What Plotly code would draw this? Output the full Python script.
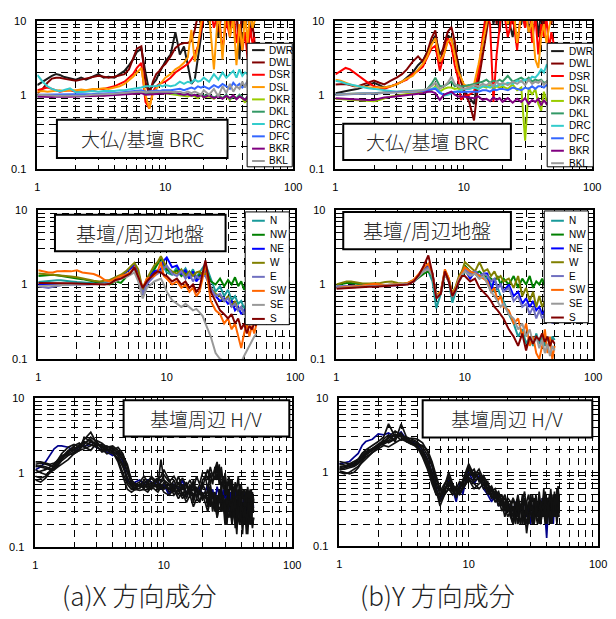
import plotly.graph_objects as go

# ---------------- data ----------------
F = [1.0, 1.1, 1.2, 1.3, 1.4, 1.5, 1.6, 1.8,
     2.0, 2.2, 2.4, 2.7, 3.0, 3.3, 3.6,
     4.0, 4.4, 4.8, 5.2, 5.6, 6.0, 6.5,
     7.0, 7.5, 8.0, 8.5, 9.0, 9.5, 10,
     11, 12, 13, 14, 15, 16, 17, 18, 19, 20,
     22, 24, 26, 28, 30, 32, 34, 36, 38, 40, 42, 44, 46, 48, 50]

# finer frequency list for the H/V panels
F_HV = [1.0, 1.1, 1.2, 1.3, 1.4, 1.5, 1.6, 1.8,
        2.0, 2.2, 2.4, 2.7, 3.0, 3.3, 3.6,
        4.0, 4.4, 4.8, 5.2, 5.6, 6.0, 6.5,
        7.0, 7.5, 8.0, 8.5, 9.0, 9.5, 10,
        11, 12, 13, 14, 15, 16, 17, 18, 19, 20,
        21, 22, 23, 24, 25, 26, 27, 28, 29, 30,
        31, 32, 33, 34, 35, 36, 37, 38, 39, 40,
        41, 42, 43, 44, 45, 46, 47, 48, 49, 50]

X_TICKS = [1, 10, 100]
X_TICK_TEXT = ["1", "10", "100"]
Y_TICKS = [0.1, 1, 10]
Y_TICK_TEXT = ["0.1", "1", "10"]

# --- top-left: 大仏/基壇 BRC, X ---
TL_NAMES = ["DWR", "DWL", "DSR", "DSL", "DKR", "DKL", "DRC", "DFC", "BKR", "BKL"]
TL_COLORS = ["#1a1a1a", "#800000", "#ff0000", "#ff9900", "#99cc00", "#339966", "#33cccc", "#3366ff", "#800080", "#999999"]
TL_DWR = [1.35, 1.5, 1.65, 1.8, 1.9, 1.85, 1.75, 1.65,
          1.6, 1.7, 1.6, 1.75, 1.9, 1.7, 1.75,
          1.7, 1.9, 2.1, 2.5, 3.0, 3.8, 4.2,
          2.0, 1.1, 1.4, 1.6, 2.0, 2.4, 2.8,
          3.5, 7.0, 3.5, 4.5, 2.5, 1.4, 1.6, 3.0, 6.0, 14,
          9, 16, 6, 20, 12, 7, 18, 15, 3, 14, 8, 14, 6, 12, 10]
TL_DWL = [1.05, 1.2, 1.45, 1.65, 1.7, 1.7, 1.65, 1.6,
          1.55, 1.6, 1.65, 1.75, 1.8, 1.75, 1.7,
          1.75, 1.85, 1.9, 2.2, 3.0, 4.2, 4.5,
          1.5, 1.0, 1.5, 1.9, 2.1, 2.4, 2.6,
          3.3, 4.3, 4.8, 5.0, 5.0, 5.3, 7.5, 12, 9, 16,
          11, 20, 7, 15, 25, 9, 18, 12, 5, 14, 8, 22, 6, 9, 5]
TL_DSR = [1.15, 1.2, 1.25, 1.2, 1.15, 1.1, 1.12, 1.15,
          1.1, 1.1, 1.12, 1.15, 1.2, 1.2, 1.25,
          1.3, 1.4, 1.5, 1.7, 1.9, 2.3, 2.7,
          0.8, 0.65, 1.1, 1.3, 1.4, 1.45, 1.5,
          1.7, 2.0, 2.2, 2.4, 2.6, 3.0, 3.5, 4.5, 7, 12,
          18, 8, 14, 4, 10, 6, 15, 5, 9, 4, 7, 3, 8, 5, 6]
TL_DSL = [1.1, 1.12, 1.1, 1.12, 1.15, 1.15, 1.12, 1.15,
          1.15, 1.18, 1.15, 1.2, 1.2, 1.22, 1.2,
          1.25, 1.3, 1.4, 1.55, 1.75, 2.0, 2.3,
          1.0, 0.65, 1.05, 1.2, 1.35, 1.5, 1.7,
          1.9, 2.2, 2.4, 2.7, 3.2, 7.5, 2.8, 4.5, 9, 14,
          12, 2.2, 15, 3, 18, 6, 11, 2.5, 9, 4, 12, 5, 14, 8, 10]
TL_DKR = [0.98, 0.97, 0.96, 0.97, 0.98, 0.97, 0.98, 0.97,
          0.97, 0.98, 0.97, 0.98, 0.99, 0.98, 1.0,
          1.0, 1.0, 1.02, 1.03, 1.05, 1.05, 1.1,
          1.0, 1.05, 1.05, 1.05, 1.08, 1.05, 1.05,
          1.02, 1.0, 0.98, 0.97, 0.95, 0.98, 0.95, 0.9, 1.0, 0.92,
          0.95, 0.88, 1.0, 0.9, 0.95, 0.85, 0.97, 0.88, 0.95, 0.9, 0.78, 0.95, 0.85, 0.92, 0.9]
TL_DKL = [0.95, 0.95, 0.96, 0.97, 0.97, 0.98, 0.98, 0.99,
          1.0, 1.0, 1.0, 1.0, 1.02, 1.02, 1.03,
          1.03, 1.05, 1.05, 1.07, 1.08, 1.1, 1.1,
          1.05, 1.05, 1.08, 1.08, 1.1, 1.08, 1.1,
          1.05, 1.05, 1.02, 1.0, 1.02, 0.98, 1.0, 0.95, 1.0, 0.97,
          1.0, 0.92, 0.98, 0.9, 1.0, 0.88, 0.95, 0.9, 1.0, 0.92, 0.85, 0.95, 0.9, 0.95, 0.92]
TL_DRC = [1.85, 1.5, 1.3, 1.2, 1.15, 1.12, 1.15, 1.22,
          1.08, 1.08, 1.1, 1.12, 1.1, 1.12, 1.12,
          1.12, 1.15, 1.15, 1.18, 1.2, 1.22, 1.25,
          1.3, 1.3, 1.28, 1.3, 1.35, 1.3, 1.35,
          1.3, 1.35, 1.5, 1.4, 1.5, 1.45, 1.6, 1.5, 1.55, 1.7,
          1.5, 1.9, 1.6, 2.0, 1.7, 1.9, 2.1, 1.7, 2.2, 1.8, 2.0, 1.9, 2.1, 2.0, 2.2]
TL_DFC = [1.0, 1.0, 1.0, 1.0, 1.0, 1.0, 1.0, 1.0,
          1.0, 1.0, 1.02, 1.02, 1.03, 1.05, 1.05,
          1.05, 1.07, 1.08, 1.1, 1.1, 1.12, 1.15,
          1.1, 1.1, 1.12, 1.15, 1.12, 1.15, 1.15,
          1.15, 1.18, 1.2, 1.15, 1.2, 1.25, 1.2, 1.3, 1.25, 1.3,
          1.2, 1.35, 1.25, 1.4, 1.3, 1.2, 1.45, 1.3, 1.4, 1.25, 1.35, 1.5, 1.3, 1.45, 1.4]
TL_BKR = [0.95, 0.94, 0.93, 0.93, 0.94, 0.95, 0.94, 0.94,
          0.95, 0.95, 0.96, 0.96, 0.97, 0.97, 0.98,
          0.98, 1.0, 1.0, 1.0, 1.02, 1.02, 1.05,
          1.0, 1.0, 1.02, 1.02, 1.05, 1.03, 1.05,
          1.05, 1.08, 1.02, 1.0, 1.02, 0.97, 1.0, 0.95, 1.0, 0.92,
          0.98, 0.9, 0.95, 0.88, 0.96, 0.9, 0.98, 0.87, 0.95, 0.9, 0.85, 0.95, 0.88, 0.92, 0.9]
TL_BKL = [1.0, 1.0, 0.98, 0.98, 0.97, 0.97, 0.97, 0.97,
          0.97, 0.98, 0.98, 1.0, 1.0, 1.02, 1.02,
          1.03, 1.05, 1.05, 1.07, 1.08, 1.1, 1.1,
          1.08, 1.1, 1.1, 1.12, 1.1, 1.12, 1.1,
          1.1, 1.08, 1.1, 1.05, 1.1, 1.05, 1.1, 1.05, 1.0, 1.15,
          1.0, 1.2, 0.95, 1.3, 1.05, 1.4, 1.1, 1.3, 1.2, 1.5, 1.25, 1.6, 1.35, 1.55, 1.6]

# --- top-right: 大仏/基壇 BRC, Y ---
TR_DWR = [1.05, 1.08, 1.1, 1.15, 1.18, 1.2, 1.25, 1.35,
          1.45, 1.35, 1.25, 1.3, 1.38, 1.5, 1.7,
          2.0, 2.5, 2.9, 3.8, 5.0, 6.3, 3.5,
          4.3, 6.3, 5.8, 4.0, 2.8, 1.7, 1.15,
          0.92, 0.75, 2.0, 5.8, 12, 18, 9, 15, 7, 20,
          12, 6, 16, 9, 20, 7, 13, 18, 6, 14, 9, 20, 11, 15, 18]
TR_DWL = [1.38, 1.4, 1.4, 1.35, 1.3, 1.3, 1.35, 1.45,
          1.55, 1.45, 1.38, 1.55, 1.7, 1.9, 2.2,
          2.8, 3.3, 2.8, 3.8, 5.8, 7.4, 2.6,
          4.7, 7.1, 8.2, 5.2, 2.3, 1.5, 1.1,
          0.8, 0.45, 1.5, 3.5, 8.7, 14, 20, 9, 16, 12,
          18, 9, 14, 20, 8, 15, 11, 17, 10, 13, 7, 16, 12, 9, 14]
TR_DSR = [1.88, 2.1, 2.3, 2.2, 2.0, 1.85, 1.7, 1.45,
          1.3, 1.25, 1.2, 1.3, 1.4, 1.5, 1.6,
          1.9, 2.1, 2.4, 3.3, 4.2, 4.6, 2.1,
          3.5, 5.8, 4.5, 2.5, 1.7, 0.85, 0.95,
          1.0, 1.1, 2.0, 6, 14, 9, 0.8, 3.5, 10, 18,
          6, 12, 4, 15, 8, 20, 5, 12, 3.5, 9, 6, 11, 4, 7, 5]
TR_DSL = [1.6, 1.55, 1.46, 1.38, 1.32, 1.3, 1.28, 1.26,
          1.25, 1.25, 1.25, 1.3, 1.38, 1.5, 1.65,
          1.8, 2.2, 2.6, 3.3, 4.7, 5.8, 2.8,
          3.5, 5.2, 5.8, 3.5, 2.1, 1.7, 1.38,
          1.25, 1.38, 2.55, 4.7, 8.7, 16, 11, 20, 13, 25,
          9, 18, 5, 12, 15, 7, 10, 3, 2.3, 6, 9, 5, 8, 12, 15]
TR_DKR = [0.88, 0.87, 0.86, 0.85, 0.84, 0.83, 0.83, 0.82,
          0.82, 0.85, 0.9, 0.95, 0.97, 1.0, 1.02,
          1.03, 1.05, 1.07, 1.1, 1.15, 1.3, 1.1,
          1.2, 1.25, 1.25, 1.2, 1.22, 1.18, 1.19,
          1.2, 1.25, 1.2, 1.3, 1.25, 1.35, 1.2, 1.3, 1.25, 1.3,
          1.2, 1.38, 1.15, 1.25, 0.24, 1.25, 1.0, 1.2, 0.75, 0.61, 1.1, 0.83, 0.9, 0.68, 0.85]
TR_DKL = [1.0, 1.0, 1.02, 1.03, 1.03, 1.04, 1.05, 1.05,
          1.05, 1.06, 1.07, 1.08, 1.1, 1.1, 1.12,
          1.12, 1.13, 1.15, 1.2, 1.4, 1.7, 1.3,
          1.3, 1.4, 1.5, 1.3, 1.35, 1.3, 1.3,
          1.35, 1.4, 1.45, 1.5, 1.6, 1.45, 1.55, 1.5, 1.6, 1.5,
          1.8, 1.5, 1.6, 1.7, 1.55, 1.7, 1.5, 1.6, 1.55, 1.6, 1.45, 1.5, 1.6, 1.4, 1.5]
TR_DRC = [1.55, 1.5, 1.42, 1.38, 1.33, 1.3, 1.27, 1.22,
          1.2, 1.17, 1.15, 1.12, 1.1, 1.1, 1.1,
          1.1, 1.12, 1.14, 1.16, 1.2, 1.25, 1.1,
          0.97, 1.0, 1.05, 1.1, 1.12, 1.15, 1.2,
          1.2, 1.25, 1.2, 1.3, 1.3, 1.25, 1.35, 1.3, 1.4, 1.35,
          1.45, 1.4, 1.55, 1.5, 1.6, 1.55, 1.75, 1.7, 1.9, 2.2, 2.0, 2.5, 2.3, 2.8, 3.0]
TR_DFC = [1.0, 1.0, 1.01, 1.02, 1.02, 1.03, 1.03, 1.04,
          1.05, 1.05, 1.06, 1.08, 1.1, 1.1, 1.1,
          1.1, 1.12, 1.12, 1.15, 1.18, 1.2, 1.05,
          1.0, 1.05, 1.08, 1.1, 1.1, 1.08, 1.1,
          1.1, 1.12, 1.1, 1.15, 1.15, 1.1, 1.18, 1.15, 1.2, 1.2,
          1.15, 1.25, 1.2, 1.15, 1.25, 1.2, 1.3, 1.2, 1.3, 1.3, 1.25, 1.35, 1.3, 1.3, 1.35]
TR_BKR = [0.9, 0.89, 0.88, 0.88, 0.87, 0.87, 0.86, 0.85,
          0.85, 0.88, 0.92, 0.93, 0.95, 0.96, 0.97,
          1.0, 1.02, 1.05, 1.1, 1.1, 1.05, 0.85,
          1.0, 1.05, 1.1, 1.0, 0.95, 0.95, 0.95,
          0.92, 0.9, 0.95, 0.85, 0.88, 0.82, 0.92, 0.85, 0.9, 0.8,
          0.9, 0.78, 0.88, 0.8, 0.9, 0.75, 0.85, 0.8, 0.88, 0.72, 0.85, 0.75, 0.82, 0.7, 0.78]
TR_BKL = [1.0, 1.0, 1.02, 1.02, 1.03, 1.03, 1.04, 1.05,
          1.05, 1.05, 1.06, 1.06, 1.07, 1.08, 1.1,
          1.1, 1.12, 1.15, 1.2, 1.3, 1.45, 1.2,
          1.3, 1.45, 1.75, 1.4, 1.3, 1.25, 1.2,
          1.25, 1.35, 1.3, 1.4, 1.35, 1.45, 1.3, 1.5, 1.35, 1.45,
          1.35, 1.5, 1.4, 1.55, 1.35, 1.6, 1.4, 1.5, 1.45, 1.55, 1.35, 1.5, 1.4, 1.3, 1.45]

# --- middle-left: 基壇/周辺地盤, X ---
ML_NAMES = ["N", "NW", "NE", "W", "E", "SW", "SE", "S"]
ML_COLORS = ["#1a9a9a", "#008000", "#0000ff", "#808000", "#7070c0", "#ff6600", "#999999", "#800000"]
ML_N = [1.08, 1.1, 1.12, 1.13, 1.14, 1.14, 1.12, 1.1,
        1.08, 1.06, 1.05, 1.04, 1.03, 1.05, 1.1,
        1.25, 1.3, 1.45, 1.6, 1.8, 1.35, 0.8,
        1.1, 1.35, 1.7, 1.9, 2.0, 1.7, 1.45,
        1.35, 1.7, 1.4, 1.65, 1.3, 1.6, 1.25, 1.45, 1.7, 1.9,
        1.2, 0.8, 0.95, 0.7, 0.85, 0.62, 0.7, 0.55, 0.6, 0.48, 0.55, 0.45, 0.52, 0.4, 0.45]
ML_NW = [1.3, 1.32, 1.35, 1.35, 1.33, 1.3, 1.28, 1.25,
         1.2, 1.18, 1.15, 1.1, 1.05, 1.02, 1.0,
         1.1, 1.05, 1.25, 1.45, 1.6, 1.45, 0.85,
         1.1, 1.3, 1.55, 1.9, 2.3, 1.9, 1.6,
         1.4, 1.55, 1.3, 1.45, 1.2, 1.5, 1.2, 1.35, 1.45, 1.6,
         1.1, 1.0, 1.2, 0.95, 1.15, 1.0, 1.25, 0.95, 1.1, 0.85, 1.0, 0.8, 0.95, 0.85, 0.9]
ML_NE = [1.0, 1.0, 1.0, 1.0, 1.0, 1.0, 1.0, 1.01,
         1.02, 1.02, 1.0, 1.0, 1.0, 1.02, 1.05,
         1.2, 1.3, 1.45, 1.6, 1.8, 1.4, 0.72,
         1.0, 1.3, 1.5, 1.55, 1.6, 2.1, 2.3,
         1.7, 1.8, 1.4, 1.55, 1.2, 1.5, 1.1, 1.25, 1.4, 1.5,
         0.9, 0.7, 0.6, 0.65, 0.55, 0.6, 0.45, 0.5, 0.4, 0.45, 0.38, 0.42, 0.35, 0.4, 0.38]
ML_W = [1.4, 1.38, 1.37, 1.36, 1.35, 1.34, 1.32, 1.28,
        1.25, 1.2, 1.17, 1.12, 1.1, 1.12, 1.15,
        1.25, 1.35, 1.5, 1.7, 1.95, 1.6, 0.85,
        1.2, 1.5, 1.8, 2.0, 2.4, 2.0, 1.7,
        1.5, 1.4, 1.6, 1.3, 1.5, 1.3, 1.45, 1.5, 1.3, 1.4,
        0.9, 0.75, 0.7, 0.6, 0.7, 0.5, 0.6, 0.45, 0.5, 0.4, 0.45, 0.38, 0.42, 0.35, 0.4]
ML_E = [0.95, 0.92, 0.9, 0.93, 0.96, 0.98, 0.99, 1.0,
        1.0, 1.0, 1.0, 1.0, 1.0, 1.02, 1.05,
        1.15, 1.25, 1.35, 1.45, 1.6, 1.3, 0.75,
        1.0, 1.15, 1.3, 1.4, 1.5, 1.65, 1.8,
        1.4, 1.3, 1.5, 1.2, 1.4, 1.1, 1.3, 1.2, 1.3, 1.3,
        0.9, 0.7, 0.75, 0.6, 0.65, 0.5, 0.55, 0.45, 0.5, 0.4, 0.45, 0.35, 0.4, 0.33, 0.38]
ML_SW = [1.55, 1.5, 1.45, 1.45, 1.5, 1.5, 1.52, 1.5,
         1.55, 1.45, 1.42, 1.38, 1.28, 1.15, 1.1,
         1.2, 1.3, 1.35, 1.45, 1.7, 1.3, 0.9,
         1.2, 1.25, 1.3, 1.5, 2.0, 1.3, 1.2,
         1.0, 1.1, 0.9, 1.0, 0.8, 0.9, 0.7, 0.8, 1.2, 1.9,
         0.6, 0.45, 0.4, 0.3, 0.35, 0.25, 0.3, 0.2, 0.14, 0.22, 0.3, 0.2, 0.28, 0.22, 0.3]
ML_SE = [0.95, 0.96, 0.97, 0.97, 0.98, 0.98, 0.99, 1.0,
         1.0, 1.0, 1.0, 1.0, 1.0, 1.02, 1.05,
         1.1, 1.2, 1.25, 1.35, 1.45, 1.1, 0.65,
         0.9, 1.0, 1.1, 1.15, 1.2, 1.0, 0.8,
         0.62, 0.55, 0.5, 0.55, 0.5, 0.45, 0.47, 0.42, 0.38, 0.3,
         0.2, 0.12, 0.1, 0.095, 0.09, 0.092, 0.09, 0.095, 0.09, 0.11, 0.13, 0.15, 0.17, 0.2, 0.22]
ML_S = [1.05, 1.05, 1.06, 1.06, 1.05, 1.05, 1.05, 1.04,
        1.03, 1.02, 1.01, 1.0, 1.0, 1.0, 1.02,
        1.15, 1.2, 1.3, 1.4, 1.7, 1.3, 0.9,
        1.1, 1.25, 1.4, 1.5, 1.45, 1.35, 1.3,
        1.1, 1.2, 1.0, 1.1, 0.9, 1.0, 0.8, 0.9, 1.4, 2.1,
        0.8, 0.6, 0.45, 0.4, 0.35, 0.4, 0.3, 0.35, 0.25, 0.3, 0.22, 0.28, 0.25, 0.3, 0.28]

# --- middle-right: 基壇/周辺地盤, Y ---
MR_N = [0.92, 0.93, 0.94, 0.95, 0.95, 0.96, 0.96, 0.97,
        0.97, 0.98, 0.98, 0.98, 0.99, 1.0, 1.02,
        1.1, 1.3, 1.6, 1.5, 1.1, 0.48, 0.75,
        1.4, 1.1, 0.57, 0.8, 1.1, 1.3, 1.5,
        1.3, 1.4, 1.2, 1.3, 1.2, 1.0, 0.8, 0.9, 0.7, 0.6,
        0.4, 0.3, 0.2, 0.25, 0.16, 0.2, 0.15, 0.22, 0.16, 0.2, 0.15, 0.2, 0.15, 0.2, 0.18]
MR_NW = [0.98, 1.02, 1.05, 1.05, 1.03, 1.0, 0.98, 0.97,
         0.96, 0.97, 0.98, 1.0, 1.0, 1.0, 1.02,
         1.1, 1.25, 1.4, 1.5, 1.3, 0.7, 0.75,
         1.4, 1.1, 0.72, 0.9, 1.2, 1.45, 1.8,
         1.5, 1.4, 1.5, 1.3, 1.3, 1.2, 1.1, 1.3, 1.0, 1.2,
         1.0, 1.3, 0.9, 1.2, 1.0, 1.3, 0.9, 1.1, 1.0, 1.2, 0.95, 1.1, 1.0, 1.05, 1.0]
MR_NE = [0.92, 0.93, 0.95, 0.95, 0.95, 0.95, 0.96, 0.96,
         0.97, 0.97, 0.98, 0.98, 0.98, 1.0, 1.02,
         1.1, 1.3, 1.6, 1.8, 1.4, 0.7, 0.78,
         1.5, 1.15, 0.7, 0.85, 1.2, 1.4, 1.6,
         1.2, 1.5, 1.3, 1.4, 1.4, 0.8, 1.2, 0.9, 1.0, 0.8,
         1.0, 0.7, 0.8, 0.55, 0.65, 0.5, 0.6, 0.45, 0.5, 0.4, 0.45, 0.4, 0.42, 0.38, 0.4]
MR_W = [1.0, 1.05, 1.1, 1.1, 1.08, 1.05, 1.03, 1.03,
        1.03, 1.05, 1.08, 1.1, 1.05, 1.03, 1.05,
        1.15, 1.35, 1.6, 1.7, 1.3, 0.72, 0.8,
        1.55, 1.2, 0.75, 0.95, 1.3, 1.5, 2.0,
        1.7, 1.5, 2.0, 1.5, 1.6, 1.3, 1.5, 1.2, 1.3, 1.1,
        1.2, 0.9, 1.3, 0.7, 0.9, 0.6, 0.8, 0.5, 0.7, 0.5, 0.6, 0.45, 0.55, 0.5, 0.55]
MR_E = [0.95, 0.95, 0.96, 0.96, 0.97, 0.97, 0.97, 0.98,
        0.98, 0.98, 0.98, 1.0, 1.0, 1.0, 1.02,
        1.1, 1.3, 1.55, 1.7, 1.35, 0.68, 0.75,
        1.45, 1.1, 0.7, 0.85, 1.2, 1.4, 1.6,
        1.4, 1.5, 1.3, 1.4, 1.3, 1.1, 1.2, 0.9, 1.0, 0.8,
        0.9, 0.6, 0.7, 0.5, 0.55, 0.4, 0.5, 0.35, 0.45, 0.35, 0.4, 0.32, 0.38, 0.3, 0.35]
MR_SW = [0.9, 0.92, 0.93, 0.93, 0.94, 0.95, 0.97, 1.0,
         1.02, 1.0, 0.98, 1.0, 1.0, 1.02, 1.05,
         1.15, 1.4, 1.7, 1.9, 1.4, 0.7, 0.8,
         1.6, 1.2, 0.72, 0.9, 1.2, 1.45, 1.7,
         1.5, 1.4, 1.3, 1.2, 1.1, 0.8, 0.9, 0.6, 0.7, 0.5,
         0.45, 0.3, 0.35, 0.2, 0.3, 0.15, 0.2, 0.12, 0.1, 0.15, 0.25, 0.12, 0.2, 0.1, 0.15]
MR_SE = [0.9, 0.9, 0.91, 0.92, 0.92, 0.93, 0.94, 0.95,
         0.95, 0.96, 0.97, 0.98, 0.98, 1.0, 1.02,
         1.1, 1.3, 1.5, 1.6, 1.3, 0.7, 0.75,
         1.4, 1.1, 0.68, 0.85, 1.15, 1.35, 1.5,
         1.3, 1.4, 1.2, 1.3, 1.0, 0.8, 0.7, 0.6, 0.5, 0.55,
         0.4, 0.35, 0.25, 0.3, 0.2, 0.25, 0.16, 0.2, 0.14, 0.18, 0.12, 0.16, 0.11, 0.15, 0.13]
MR_S = [0.88, 0.89, 0.9, 0.9, 0.91, 0.92, 0.93, 0.93,
        0.93, 0.94, 0.95, 0.96, 0.97, 0.98, 1.0,
        1.1, 1.35, 1.8, 2.45, 1.4, 0.65, 0.75,
        1.5, 1.1, 0.7, 0.85, 1.1, 1.3, 1.3,
        1.1, 1.2, 0.9, 0.8, 0.7, 0.6, 0.5, 0.45, 0.4, 0.35,
        0.25, 0.2, 0.15, 0.22, 0.13, 0.2, 0.16, 0.2, 0.18, 0.22, 0.17, 0.2, 0.15, 0.18, 0.16]

# --- bottom-left: 基壇周辺 H/V, X  (on F_HV) ---
BL_BLUE = [1.1, 1.2, 1.4, 1.7, 2.1, 2.3, 2.3, 2.2,
           2.0, 2.2, 2.3, 2.4, 2.2, 2.0, 1.9,
           1.7, 1.9, 1.4, 0.8, 0.7, 0.75, 0.8,
           0.7, 0.8, 0.75, 0.7, 0.8, 0.6, 0.7,
           0.5, 0.7, 0.6, 0.8, 0.5, 0.6, 0.7, 0.55, 0.65, 0.5,
           0.55, 0.7, 0.45, 0.6, 0.4, 0.65, 0.5, 0.35, 0.6, 0.45,
           0.5, 0.3, 0.55, 0.4, 0.45, 0.6, 0.3, 0.5, 0.35, 0.45,
           0.25, 0.55, 0.4, 0.3, 0.5, 0.35, 0.45, 0.3, 0.4, 0.35]
BL_K1 = [0.8, 0.75, 0.85, 1.0, 1.2, 1.4, 1.6, 1.9,
         2.1, 2.3, 2.6, 2.4, 2.2, 2.0, 2.1,
         1.9, 1.5, 1.0, 0.7, 0.6, 0.65, 0.7,
         0.65, 0.7, 0.6, 0.7, 0.65, 0.75, 0.8,
         0.6, 0.8, 0.55, 0.7, 0.5, 0.65, 0.45, 0.6, 0.5, 0.7,
         0.6, 0.4, 0.7, 0.45, 0.55, 0.35, 0.6, 0.3, 0.5, 0.25,
         0.45, 0.6, 0.3, 0.5, 0.35, 0.2, 0.45, 0.3, 0.55, 0.25,
         0.4, 0.3, 0.5, 0.2, 0.35, 0.45, 0.25, 0.4, 0.3, 0.35]
BL_K2 = [1.0, 1.05, 1.1, 1.2, 1.3, 1.5, 1.8, 2.2,
         2.4, 2.2, 2.8, 3.5, 2.5, 2.2, 2.0,
         2.2, 1.8, 1.5, 1.0, 0.8, 0.7, 0.65,
         0.8, 0.7, 0.85, 0.75, 0.8, 0.9, 1.1,
         0.8, 0.6, 0.9, 0.6, 0.75, 0.5, 0.8, 0.55, 0.7, 0.6,
         0.9, 0.6, 1.0, 0.7, 1.2, 0.8, 1.3, 0.6, 0.9, 0.5,
         0.7, 0.4, 0.8, 0.5, 0.65, 0.35, 0.6, 0.4, 0.7, 0.3,
         0.55, 0.45, 0.3, 0.6, 0.35, 0.5, 0.3, 0.45, 0.55, 0.4]
BL_K3 = [1.3, 1.35, 1.3, 1.25, 1.2, 1.3, 1.5, 1.9,
         2.3, 2.5, 2.2, 2.6, 2.4, 2.3, 2.1,
         2.0, 2.2, 1.8, 1.2, 0.75, 0.65, 0.7,
         0.75, 0.6, 0.7, 0.65, 0.7, 0.6, 0.75,
         0.55, 0.65, 0.5, 0.7, 0.45, 0.6, 0.5, 0.65, 0.4, 0.55,
         0.45, 0.6, 0.35, 0.55, 0.3, 0.5, 0.4, 0.65, 0.3, 0.45,
         0.25, 0.5, 0.35, 0.55, 0.3, 0.4, 0.2, 0.45, 0.3, 0.5,
         0.25, 0.4, 0.35, 0.5, 0.2, 0.45, 0.3, 0.25, 0.4, 0.3]
BL_K4 = [1.1, 1.0, 0.95, 1.0, 1.1, 1.3, 1.6, 2.0,
         2.2, 2.0, 3.0, 2.6, 2.3, 2.4, 2.0,
         1.8, 1.6, 1.2, 0.85, 0.65, 0.6, 0.7,
         0.6, 0.75, 0.65, 0.8, 0.7, 1.5, 0.8,
         0.7, 0.55, 0.75, 0.5, 0.65, 0.55, 0.7, 0.45, 0.6, 0.5,
         0.55, 0.35, 0.6, 0.3, 0.5, 0.25, 0.45, 0.55, 0.3, 0.4,
         0.2, 0.45, 0.35, 0.25, 0.5, 0.3, 0.15, 0.4, 0.25, 0.45,
         0.2, 0.35, 0.3, 0.15, 0.4, 0.25, 0.45, 0.2, 0.35, 0.3]
BL_K5 = [1.25, 1.2, 1.15, 1.1, 1.15, 1.25, 1.45, 1.7,
         1.9, 2.1, 2.4, 3.0, 2.6, 2.2, 2.3,
         2.1, 1.9, 1.6, 1.0, 0.7, 0.6, 0.62,
         0.7, 0.65, 0.6, 0.7, 0.6, 0.65, 0.6,
         0.7, 0.5, 0.6, 0.45, 0.55, 0.7, 0.4, 0.6, 0.55, 0.8,
         0.9, 1.1, 0.7, 1.0, 0.8, 1.3, 0.7, 1.1, 0.6, 0.9,
         0.5, 0.8, 0.6, 0.75, 0.45, 0.7, 0.5, 0.6, 0.35, 0.65,
         0.45, 0.55, 0.3, 0.6, 0.4, 0.5, 0.35, 0.6, 0.3, 0.45]
BL_K6 = [0.9, 0.85, 0.9, 1.05, 1.25, 1.5, 1.7, 1.8,
         2.0, 2.4, 2.2, 2.0, 2.5, 2.1, 1.8,
         1.9, 1.4, 0.9, 0.6, 0.55, 0.6, 0.58,
         0.6, 0.55, 0.65, 0.6, 0.55, 0.65, 0.55,
         0.5, 0.6, 0.45, 0.55, 0.4, 0.5, 0.35, 0.45, 0.4, 0.5,
         0.4, 0.3, 0.45, 0.35, 0.4, 0.25, 0.35, 0.3, 0.4, 0.2,
         0.35, 0.25, 0.3, 0.2, 0.35, 0.18, 0.3, 0.25, 0.2, 0.3,
         0.15, 0.28, 0.2, 0.25, 0.15, 0.3, 0.2, 0.25, 0.18, 0.25]
BL_K7 = [1.4, 1.4, 1.35, 1.3, 1.35, 1.45, 1.6, 1.75,
         1.8, 2.0, 2.1, 2.3, 2.7, 2.5, 2.2,
         2.3, 2.0, 1.7, 1.3, 0.8, 0.7, 0.75,
         0.9, 0.75, 0.9, 0.8, 0.85, 0.75, 0.95,
         0.75, 0.9, 0.7, 0.85, 0.65, 0.8, 0.6, 0.9, 0.7, 1.0,
         1.0, 0.8, 1.2, 0.9, 1.1, 1.4, 0.8, 1.2, 0.7, 1.0,
         0.6, 0.9, 0.7, 0.8, 0.5, 0.75, 0.6, 0.9, 0.5, 0.7,
         0.45, 0.6, 0.55, 0.4, 0.65, 0.45, 0.6, 0.4, 0.5, 0.45]
BL_K8 = [1.2, 1.25, 1.2, 1.15, 1.1, 1.2, 1.3, 1.5,
         1.8, 2.0, 2.5, 2.8, 2.3, 1.9, 2.0,
         2.0, 1.7, 1.3, 0.75, 0.65, 0.7, 0.65,
         0.7, 0.65, 0.75, 0.7, 0.6, 0.7, 0.65,
         0.6, 0.7, 0.65, 0.6, 0.7, 0.55, 0.6, 0.5, 0.55, 0.45,
         0.5, 0.4, 0.55, 0.35, 0.5, 0.3, 0.45, 0.4, 0.5, 0.3,
         0.45, 0.35, 0.25, 0.4, 0.3, 0.45, 0.25, 0.35, 0.2, 0.4,
         0.3, 0.25, 0.35, 0.2, 0.3, 0.4, 0.25, 0.3, 0.2, 0.25]

# --- bottom-right: 基壇周辺 H/V, Y  (on F_HV) ---
BR_BLUE = [1.3, 1.35, 1.4, 1.6, 1.8, 2.3, 2.6, 2.8,
           3.3, 3.2, 3.4, 3.0, 3.5, 2.8, 2.6,
           2.4, 2.0, 1.5, 1.0, 0.6, 0.4, 0.55,
           0.8, 0.6, 0.4, 0.7, 0.5, 0.8, 1.0,
           0.7, 0.9, 0.6, 0.5, 0.4, 0.5, 0.35, 0.4, 0.3, 0.35,
           0.35, 0.3, 0.4, 0.25, 0.35, 0.3, 0.45, 0.25, 0.35, 0.2,
           0.3, 0.4, 0.25, 0.35, 0.3, 0.2, 0.45, 0.3, 0.25, 0.13,
           0.3, 0.4, 0.25, 0.35, 0.2, 0.4, 0.3, 0.25, 0.35, 0.3]
BR_K1 = [1.1, 1.15, 1.2, 1.3, 1.5, 1.8, 2.0, 2.3,
         2.6, 3.0, 4.5, 3.0, 3.2, 2.8, 2.5,
         2.3, 1.8, 1.3, 0.8, 0.5, 0.45, 0.6,
         0.7, 0.55, 0.5, 0.6, 0.7, 0.9, 1.1,
         0.8, 1.0, 0.7, 0.6, 0.5, 0.4, 0.45, 0.3, 0.35, 0.25,
         0.3, 0.2, 0.4, 0.25, 0.35, 0.2, 0.45, 0.3, 0.25, 0.5,
         0.3, 0.2, 0.4, 0.25, 0.35, 0.2, 0.45, 0.3, 0.55, 0.25,
         0.35, 0.2, 0.4, 0.3, 0.5, 0.25, 0.45, 0.3, 0.6, 0.35]
BR_K2 = [1.0, 0.95, 1.0, 1.1, 1.2, 1.35, 1.5, 1.8,
         2.2, 2.8, 3.2, 2.6, 4.5, 3.0, 2.8,
         2.6, 2.0, 1.5, 1.0, 0.6, 0.35, 0.5,
         0.9, 0.6, 0.45, 0.6, 0.8, 1.0, 1.3,
         0.9, 1.1, 0.8, 0.6, 0.45, 0.5, 0.35, 0.45, 0.3, 0.4,
         0.25, 0.35, 0.2, 0.4, 0.3, 0.5, 0.25, 0.35, 0.2, 0.45,
         0.3, 0.25, 0.5, 0.35, 0.2, 0.4, 0.3, 0.6, 0.25, 0.4,
         0.3, 0.5, 0.2, 0.45, 0.35, 0.55, 0.3, 0.4, 0.65, 0.3]
BR_K3 = [1.2, 1.2, 1.25, 1.35, 1.5, 1.7, 1.9, 2.1,
         2.4, 2.6, 2.9, 3.3, 3.0, 2.6, 2.7,
         2.5, 2.2, 1.7, 1.2, 0.7, 0.5, 0.6,
         0.65, 0.7, 0.55, 0.65, 0.75, 0.8, 0.9,
         1.0, 0.8, 0.9, 0.7, 0.55, 0.6, 0.45, 0.5, 0.35, 0.45,
         0.4, 0.3, 0.25, 0.45, 0.35, 0.3, 0.2, 0.4, 0.5, 0.3,
         0.35, 0.25, 0.4, 0.3, 0.45, 0.2, 0.35, 0.5, 0.25, 0.3,
         0.45, 0.35, 0.25, 0.4, 0.3, 0.5, 0.25, 0.35, 0.45, 0.3]
BR_K4 = [1.4, 1.35, 1.3, 1.3, 1.4, 1.6, 1.8, 2.0,
         2.3, 2.5, 2.7, 3.2, 2.7, 2.9, 2.5,
         2.4, 2.3, 2.0, 1.4, 0.9, 0.6, 0.5,
         0.6, 0.5, 0.6, 0.55, 0.6, 0.7, 0.8,
         0.7, 0.6, 0.7, 0.5, 0.6, 0.45, 0.5, 0.4, 0.45, 0.3,
         0.35, 0.45, 0.3, 0.2, 0.35, 0.4, 0.25, 0.3, 0.2, 0.4,
         0.3, 0.45, 0.25, 0.35, 0.3, 0.2, 0.4, 0.3, 0.35, 0.2,
         0.45, 0.3, 0.4, 0.25, 0.5, 0.35, 0.3, 0.4, 0.25, 0.3]
BR_K5 = [1.05, 1.0, 0.95, 1.0, 1.15, 1.4, 1.7, 2.0,
         2.4, 2.7, 2.5, 2.8, 3.4, 2.6, 2.4,
         2.2, 1.6, 1.1, 0.7, 0.5, 0.5, 0.65,
         1.0, 0.7, 0.55, 0.5, 0.6, 0.7, 0.8,
         0.6, 0.7, 0.8, 0.55, 0.6, 0.4, 0.45, 0.35, 0.4, 0.3,
         0.3, 0.2, 0.3, 0.25, 0.35, 0.2, 0.3, 0.15, 0.25, 0.3,
         0.2, 0.35, 0.25, 0.2, 0.3, 0.4, 0.25, 0.3, 0.2, 0.35,
         0.25, 0.3, 0.2, 0.4, 0.25, 0.35, 0.3, 0.4, 0.3, 0.35]
BR_K6 = [1.15, 1.2, 1.3, 1.4, 1.5, 1.6, 1.8, 2.1,
         2.3, 2.4, 2.6, 2.9, 3.1, 3.0, 2.6,
         2.1, 1.9, 1.4, 0.9, 0.6, 0.45, 0.55,
         0.75, 0.6, 0.5, 0.65, 0.75, 0.85, 0.95,
         1.1, 0.75, 0.85, 0.6, 0.65, 0.5, 0.55, 0.4, 0.5, 0.35,
         0.3, 0.45, 0.35, 0.5, 0.3, 0.4, 0.55, 0.3, 0.4, 0.3,
         0.5, 0.35, 0.45, 0.3, 0.55, 0.35, 0.4, 0.3, 0.5, 0.35,
         0.45, 0.3, 0.6, 0.35, 0.45, 0.3, 0.5, 0.4, 0.55, 0.35]
BR_K7 = [1.3, 1.25, 1.2, 1.25, 1.35, 1.5, 1.75, 2.0,
         2.2, 2.5, 3.0, 3.6, 3.2, 2.7, 2.9,
         2.8, 2.5, 1.9, 1.3, 0.8, 0.55, 0.7,
         0.85, 0.65, 0.6, 0.75, 0.7, 0.9, 1.2,
         0.85, 0.95, 0.7, 0.75, 0.5, 0.55, 0.4, 0.45, 0.3, 0.4,
         0.35, 0.25, 0.3, 0.4, 0.3, 0.35, 0.25, 0.2, 0.4, 0.3,
         0.35, 0.2, 0.45, 0.3, 0.25, 0.4, 0.35, 0.3, 0.45, 0.35,
         0.25, 0.4, 0.5, 0.3, 0.35, 0.45, 0.3, 0.6, 0.35, 0.4]
BR_K8 = [1.1, 1.1, 1.15, 1.2, 1.3, 1.45, 1.6, 1.85,
         2.1, 2.3, 2.2, 2.5, 2.8, 2.6, 2.4,
         2.3, 1.7, 1.2, 0.8, 0.55, 0.4, 0.5,
         0.6, 0.55, 0.65, 0.5, 0.65, 0.75, 0.85,
         0.75, 0.85, 0.6, 0.7, 0.45, 0.5, 0.35, 0.4, 0.25, 0.35,
         0.25, 0.2, 0.3, 0.35, 0.2, 0.3, 0.25, 0.35, 0.2, 0.3,
         0.25, 0.2, 0.35, 0.25, 0.3, 0.2, 0.3, 0.25, 0.35, 0.2,
         0.4, 0.25, 0.3, 0.2, 0.35, 0.25, 0.3, 0.2, 0.3, 0.25]

HV_COLORS = ["#111111"] * 8 + ["#00008b"]

BOX_TEXT = ["大仏/基壇 BRC", "大仏/基壇 BRC", "基壇/周辺地盤", "基壇/周辺地盤", "基壇周辺 H/V", "基壇周辺 H/V"]
CAPTIONS = ["(a)X 方向成分", "(b)Y 方向成分"]

# ---------------- layout helpers ----------------
W, H = 616, 619
def PX(x):
    return x / W
def PY(y):
    return 1 - y / H

# plot areas in pixels: (left, top, right, bottom)
PANELS = [(35, 15, 296, 166), (339, 15, 601, 166),
          (36, 208, 298, 360), (340, 208, 602, 360),
          (33, 400, 295, 552), (343, 400, 607, 551)]

fig = go.Figure()

panel_series = [
    (F, [TL_DWR, TL_DWL, TL_DSR, TL_DSL, TL_DKR, TL_DKL, TL_DRC, TL_DFC, TL_BKR, TL_BKL], TL_NAMES, TL_COLORS, 2.0),
    (F, [TR_DWR, TR_DWL, TR_DSR, TR_DSL, TR_DKR, TR_DKL, TR_DRC, TR_DFC, TR_BKR, TR_BKL], TL_NAMES, TL_COLORS, 2.0),
    (F, [ML_N, ML_NW, ML_NE, ML_W, ML_E, ML_SW, ML_SE, ML_S], ML_NAMES, ML_COLORS, 2.0),
    (F, [MR_N, MR_NW, MR_NE, MR_W, MR_E, MR_SW, MR_SE, MR_S], ML_NAMES, ML_COLORS, 2.0),
    (F_HV, [BL_K1, BL_K2, BL_K3, BL_K4, BL_K5, BL_K6, BL_K7, BL_K8, BL_BLUE], ["k"] * 8 + ["b"], HV_COLORS, 1.7),
    (F_HV, [BR_K1, BR_K2, BR_K3, BR_K4, BR_K5, BR_K6, BR_K7, BR_K8, BR_BLUE], ["k"] * 8 + ["b"], HV_COLORS, 1.7),
]

for i, (fx, series, names, colors, lw) in enumerate(panel_series):
    sfx = "" if i == 0 else str(i + 1)
    order = list(range(len(series)))
    if i >= 4:
        order = [8] + list(range(8))
    for j in order:
        fig.add_trace(go.Scatter(x=fx, y=series[j], mode="lines", name=names[j],
                                 line=dict(color=colors[j], width=lw),
                                 showlegend=False, hoverinfo="skip",
                                 xaxis="x" + sfx, yaxis="y" + sfx))

DASH = "7px,5px"
minor_x = [2, 3, 4, 5, 6, 7, 8, 9, 20, 30, 40, 50, 60, 70, 80, 90]
minor_y = [0.2, 0.3, 0.4, 0.5, 0.6, 0.7, 0.8, 0.9, 2, 3, 4, 5, 6, 7, 8, 9]
tick_font = dict(family="Liberation Sans, Arial, sans-serif", size=11, color="black")

layout = dict(width=W, height=H, margin=dict(l=0, r=0, t=0, b=0),
              paper_bgcolor="white", plot_bgcolor="white", showlegend=False)

for i, (l, t, r, b) in enumerate(PANELS):
    sfx = "" if i == 0 else str(i + 1)
    common = dict(type="log", showline=True, linecolor="black", linewidth=1.5, mirror=True,
                  showgrid=True, gridcolor="black", gridwidth=1, griddash=DASH,
                  zeroline=False, ticks="", tickfont=tick_font, ticklabelstandoff=7)
    layout["xaxis" + sfx] = dict(common, domain=[PX(l), PX(r)], range=[0, 2],
                                 tickvals=X_TICKS, ticktext=X_TICK_TEXT,
                                 anchor="y" + sfx,
                                 minor=dict(tickvals=minor_x, showgrid=True, gridcolor="black",
                                            gridwidth=1, griddash=DASH, ticks=""))
    layout["yaxis" + sfx] = dict(common, domain=[PY(b), PY(t)], range=[-1, 1],
                                 tickvals=Y_TICKS, ticktext=Y_TICK_TEXT,
                                 anchor="x" + sfx,
                                 minor=dict(tickvals=minor_y, showgrid=True, gridcolor="black",
                                            gridwidth=1, griddash=DASH, ticks=""))

shapes = []
annotations = []

# label boxes
BOXES = [(55, 116, 229, 155), (347, 120, 518, 157),
         (53, 213, 227, 250), (347, 210, 518, 248),
         (123, 402, 292, 439), (428, 402, 601, 440)]
BOX_FONT = [19, 19, 20, 20, 19, 19]
for k, (x0, y0, x1, y1) in enumerate(BOXES):
    shapes.append(dict(type="rect", xref="paper", yref="paper", layer="above",
                       x0=PX(x0), x1=PX(x1), y0=PY(y1), y1=PY(y0),
                       line=dict(color="black", width=2), fillcolor="white"))
    annotations.append(dict(xref="paper", yref="paper", x=PX((x0 + x1) / 2), y=PY((y0 + y1) / 2),
                            text=BOX_TEXT[k], showarrow=False, xanchor="center", yanchor="middle",
                            font=dict(family="Noto Sans CJK JP", size=BOX_FONT[k], color="#222222",
                                      weight=300)))

# legends (drawn manually, compact rows)
LEGENDS = [
    (TL_NAMES, TL_COLORS, (249, 38, 295, 164), 45, 12.56, 254, 267, 269),
    (TL_NAMES, TL_COLORS, (555, 38, 602, 164), 46, 12.7, 559, 572, 575),
    (ML_NAMES, ML_COLORS, (247, 210, 292, 325), 219, 14.3, 254, 267, 270),
    (ML_NAMES, ML_COLORS, (552, 209, 597, 323), 219, 14.1, 559, 572, 575),
]
for names, colors, (bx0, by0, bx1, by1), ry0, rstep, lx0, lx1, tx in LEGENDS:
    shapes.append(dict(type="rect", xref="paper", yref="paper", layer="above",
                       x0=PX(bx0), x1=PX(bx1), y0=PY(by1), y1=PY(by0),
                       line=dict(color="black", width=1), fillcolor="white"))
    for k, (nm, col) in enumerate(zip(names, colors)):
        yy = ry0 + rstep * k
        shapes.append(dict(type="line", xref="paper", yref="paper", layer="above",
                           x0=PX(lx0), x1=PX(lx1), y0=PY(yy), y1=PY(yy),
                           line=dict(color=col, width=2)))
        annotations.append(dict(xref="paper", yref="paper", x=PX(tx), y=PY(yy), text=nm,
                                showarrow=False, xanchor="left", yanchor="middle",
                                font=dict(family="Liberation Sans, Arial", size=10, color="black")))

# captions
for cx, txt in zip([139, 443], CAPTIONS):
    annotations.append(dict(xref="paper", yref="paper", x=PX(cx), y=PY(600), text=txt,
                            showarrow=False, xanchor="center", yanchor="middle",
                            font=dict(family="Noto Sans CJK JP", size=26, color="#222222", weight=300)))

layout["shapes"] = shapes
layout["annotations"] = annotations
fig.update_layout(**layout)
fig.write_html("out.html")
